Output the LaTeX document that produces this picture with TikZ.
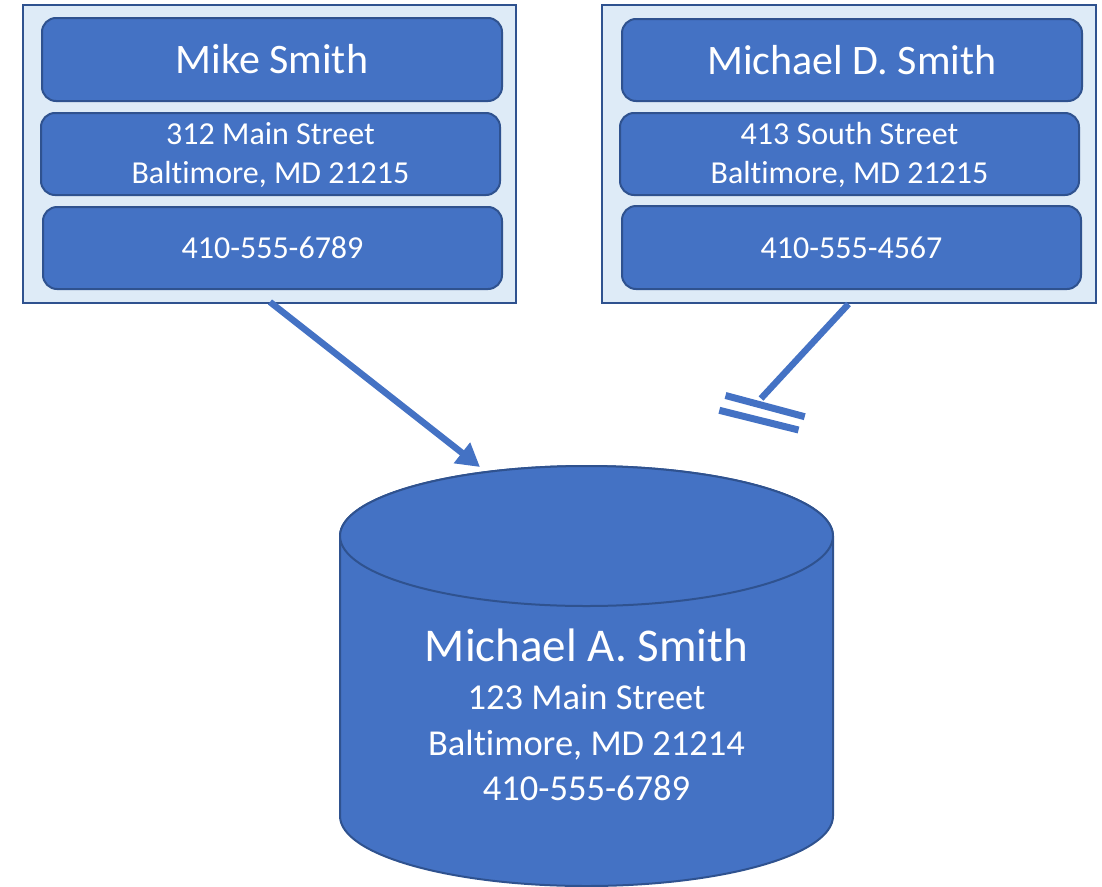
\documentclass[tikz,border=0pt]{standalone}
\usepackage{fontspec}
\setmainfont{Carlito}[Ligatures={NoCommon}]
\usetikzlibrary{arrows.meta}

\definecolor{cardfill}{HTML}{4472C4}
\definecolor{cardedge}{HTML}{2F528F}
\definecolor{panelfill}{HTML}{DEEBF7}
\definecolor{paneledge}{HTML}{2F528F}

\tikzset{
  panel/.style={draw=paneledge, fill=panelfill, line width=2.2pt, inner sep=0pt,
    minimum width=493pt, minimum height=298pt},
  card/.style={draw=cardedge, fill=cardfill, line width=2pt, rounded corners=14pt,
    text=white, align=center, inner sep=0pt, minimum width=459pt, minimum height=82pt},
  namefont/.style={font=\fontsize{42}{50}\selectfont},
  infofont/.style={font=\fontsize{32}{39}\selectfont},
  link/.style={draw=cardfill, line width=6.5pt},
  dbshape/.style={fill=cardfill, draw=cardedge, line width=2pt},
}

\begin{document}
\begin{tikzpicture}[x=1pt, y=1pt]
  \useasboundingbox (0,0) rectangle (1102,-886);

  % left record
  \node[panel] (leftpanel) at (269.5,-154) {};
  \node[card, namefont, minimum width=460pt, minimum height=83pt] (lname) at (272,-59.5) {Mike Smith};
  \node[card, infofont] (laddr) at (270.5,-154) {\rule{0pt}{24pt}312 Main Street\\Baltimore, MD 21215};
  \node[card, infofont] (lphone) at (272.5,-248) {410-555-6789};

  % right record
  \node[panel, minimum width=494pt] (rightpanel) at (849,-154) {};
  \node[card, namefont, minimum width=460pt] (rname) at (852,-60) {Michael D. Smith};
  \node[card, infofont] (raddr) at (849.5,-154) {\rule{0pt}{24pt}413 South Street\\Baltimore, MD 21215};
  \node[card, infofont, minimum height=83pt] (rphone) at (851.5,-247.5) {410-555-4567};

  % database cylinder
  \path[dbshape] (340,-536) -- (340,-816)
    arc[start angle=180, end angle=360, x radius=246.5, y radius=70]
    -- (833,-536)
    arc[start angle=0, end angle=180, x radius=246.5, y radius=70] -- cycle;
  \path[dbshape] (586.5,-536) ellipse[x radius=246.5, y radius=70];
  \node[text=white, align=center, font=\fontsize{36.5}{45.5}\selectfont] (db) at (586.5,-715)
    {{\fontsize{47}{45.5}\selectfont Michael A. Smith}\\[2.5pt]
     123 Main Street\\Baltimore, MD 21214\\410-555-6789};

  % connectors
  \coordinate (leftout) at (270,-302);
  \coordinate (dbhit) at (480,-467);
  \coordinate (rightout) at (848.5,-304);
  \coordinate (blocked) at (761,-398.5);

  \draw[link, -{Triangle[length=23pt, width=25pt]}] (leftout) -- (dbhit);
  \draw[link] (rightout) -- (blocked);
  \draw[link, line width=7pt] (725.5,-395.5) -- (804.7,-416.7);
  \draw[link, line width=7pt] (719.3,-410.3) -- (798.5,-430);
\end{tikzpicture}
\end{document}
